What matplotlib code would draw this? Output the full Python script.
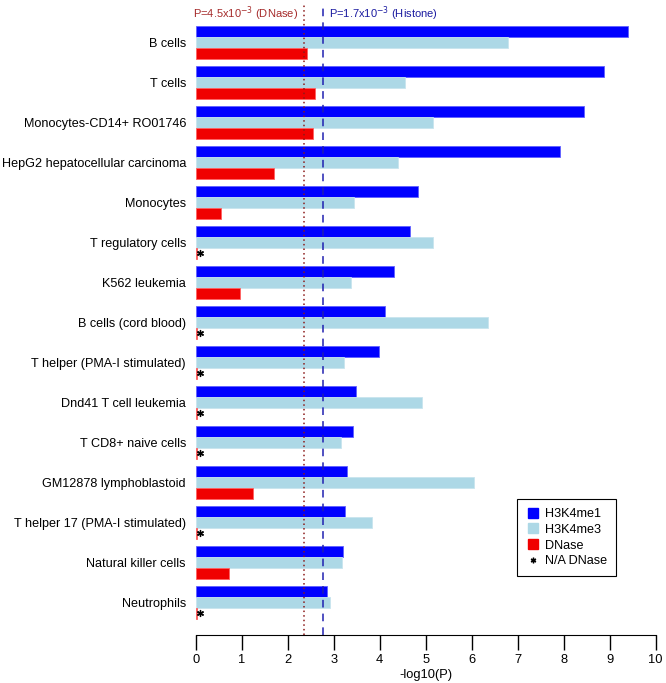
import numpy as np
import matplotlib
matplotlib.use("Agg")
import matplotlib.pyplot as plt
from matplotlib.lines import Line2D

plt.rcParams['font.family'] = ['Liberation Sans', 'DejaVu Sans']

cell_types = [
    "B cells", "T cells", "Monocytes-CD14+ RO01746",
    "HepG2 hepatocellular carcinoma", "Monocytes", "T regulatory cells",
    "K562 leukemia", "B cells (cord blood)", "T helper (PMA-I stimulated)",
    "Dnd41 T cell leukemia", "T CD8+ naive cells", "GM12878 lymphoblastoid",
    "T helper 17 (PMA-I stimulated)", "Natural killer cells", "Neutrophils",
]
h3k4me1 = [9.40, 8.88, 8.45, 7.92, 4.83, 4.67, 4.31, 4.12, 3.98, 3.49, 3.43, 3.30, 3.24, 3.21, 2.85]
h3k4me3 = [6.79, 4.54, 5.16, 4.40, 3.45, 5.17, 3.38, 6.35, 3.22, 4.91, 3.16, 6.06, 3.84, 3.18, 2.93]
# None = no DNase data available
dnase = [2.42, 2.59, 2.56, 1.70, 0.54, None, 0.97, None, None, None, None, 1.24, None, 0.72, None]

p_dnase = 4.5e-3
p_histone = 1.7e-3

n = len(cell_types)
y = np.arange(n)
h = 0.275

fig = plt.figure(figsize=(6.66, 6.83), dpi=100)
ax = fig.add_axes([0.2938, 0.0703, 0.6907, 0.9239])

ax.barh(y - h, h3k4me1, height=h, color="#0000FF", edgecolor="#6060FF", linewidth=0.6)
ax.barh(y, h3k4me3, height=h, color="#ADD8E6", edgecolor="#C8E4EE", linewidth=0.6)

dn_vals = [v if v is not None else 0.025 for v in dnase]
ax.barh(y + h, dn_vals, height=h, color="#F00000", edgecolor="#FF6060", linewidth=0.6)
na_idx = [i for i, v in enumerate(dnase) if v is None]
ax.scatter([0.1] * len(na_idx), y[na_idx] + h, marker=(6, 2, 0), s=18,
           color="black", linewidths=1.0, zorder=5)

x_dn = -np.log10(p_dnase)
x_hi = -np.log10(p_histone)
ax.axvline(x_dn, color="#8B1A1A", linestyle=(0, (1, 2)), linewidth=1.1)
ax.axvline(x_hi, color="#2020B0", linestyle=(0, (5, 4)), linewidth=1.1)
ax.text(x_dn - 0.12, -0.72, r"P=4.5x10$^{-3}$ (DNase)", color="#A52A2A",
        ha="right", va="center", fontsize=8)
ax.text(x_hi + 0.12, -0.72, r"P=1.7x10$^{-3}$ (Histone)", color="#1A1AA0",
        ha="left", va="center", fontsize=8)

ax.set_xlim(0, 10)
ax.set_ylim(14.82, -0.955)
ax.set_yticks(y)
ax.set_yticklabels(cell_types, fontsize=9.1)
ax.tick_params(axis="y", length=0, pad=7)
ax.set_xticks(np.arange(0, 11, 1))
ax.tick_params(axis="x", length=11, width=1, labelsize=9.3, pad=3)
ax.set_xlabel("-log10(P)", fontsize=9.3, labelpad=2)
for s in ["top", "right", "left"]:
    ax.spines[s].set_visible(False)
ax.spines["bottom"].set_bounds(0, 10)

handles = [
    Line2D([], [], marker="s", linestyle="none", color="#0000FF", markersize=7),
    Line2D([], [], marker="s", linestyle="none", color="#ADD8E6", markersize=7),
    Line2D([], [], marker="s", linestyle="none", color="#F00000", markersize=7),
    Line2D([], [], marker=(6, 2, 0), linestyle="none", color="black", markersize=4),
]
leg = ax.legend(handles, ["H3K4me1", "H3K4me3", "DNase", "N/A DNase"],
                loc="upper left", bbox_to_anchor=(0.699, 0.2151), borderaxespad=0,
                fontsize=9.1, frameon=True, fancybox=False, framealpha=1,
                edgecolor="black", handletextpad=0.4, labelspacing=0.3,
                handlelength=1.1, borderpad=0.7)
leg.get_frame().set_linewidth(0.8)

fig.savefig("out.png", dpi=100)
